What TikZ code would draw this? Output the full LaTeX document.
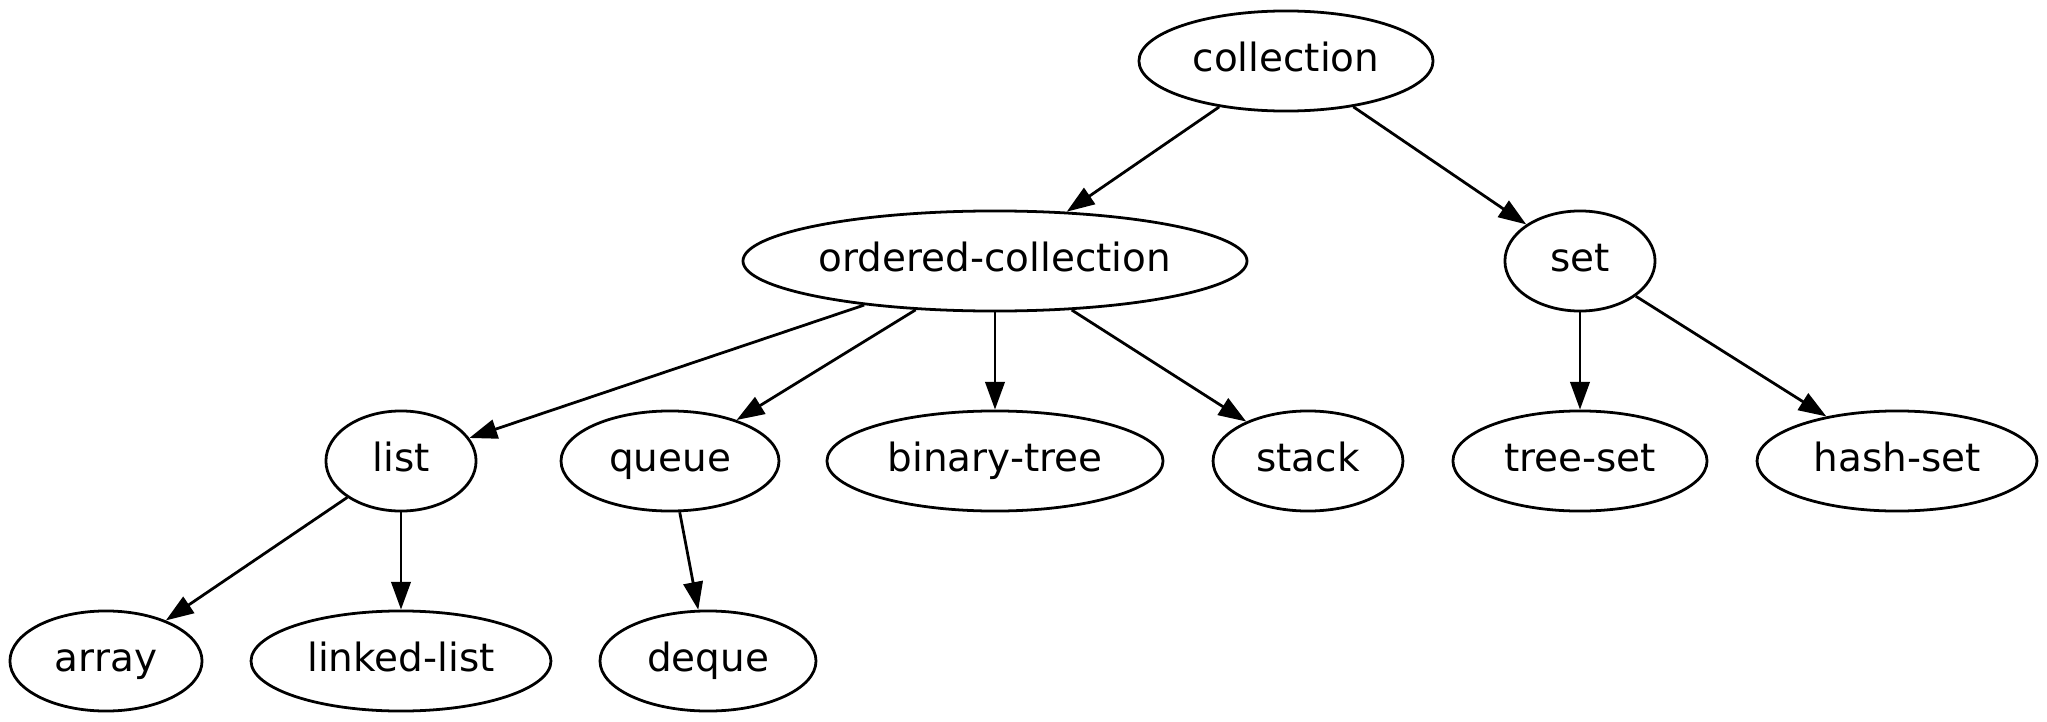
\documentclass[tikz,border=0pt]{standalone}
\usepackage{fontspec}
\setmainfont{DejaVu Sans}
\usetikzlibrary{arrows.meta, positioning, shapes.geometric}

\begin{document}
\begin{tikzpicture}[
  x=0.3597pt, y=-0.3597pt,
  oval/.style ={ellipse, draw=black, line width=1pt, inner sep=0pt,
                minimum height=36pt, text height=10pt, text depth=2.3pt,
                font=\fontsize{14pt}{16pt}\selectfont},
  arr/.style  ={-{Triangle[length=10pt,width=7pt]}, line width=1pt}
]
\useasboundingbox (0,0) rectangle (2047,722);
% ---- Root and second row ---------------------------------------------------
\node[oval, minimum width=105.8pt] (coll) at (1286,61)  {collection};
\node[oval, minimum width=181.3pt] (ord)  at (995,261)  {ordered-collection};
\node[oval, minimum width=54pt]    (set)  at (1580,261) {set};
% ---- Third row -------------------------------------------------------------
\node[oval, minimum width=54pt]    (lst)  at (401,461)  {list};
\node[oval, minimum width=78.4pt]  (que)  at (670,461)  {queue};
\node[oval, minimum width=120.9pt] (btr)  at (995,461)  {binary-tree};
\node[oval, minimum width=68.3pt]  (stk)  at (1308,461) {stack};
\node[oval, minimum width=91.4pt]  (tset) at (1580,461) {tree-set};
\node[oval, minimum width=100.7pt] (hset) at (1897,461) {hash-set};
% ---- Bottom row ------------------------------------------------------------
\node[oval, minimum width=69.1pt]  (arr)  at (106,661)  {array};
\node[oval, minimum width=107.9pt] (llst) at (401,661)  {linked-list};
\node[oval, minimum width=77.7pt]  (deq)  at (708,661)  {deque};
% ---- Arrows ----------------------------------------------------------------
\draw[arr] (coll) -- (ord);
\draw[arr] (coll) -- (set);
\draw[arr] (ord)  -- (lst);
\draw[arr] (ord)  -- (que);
\draw[arr] (ord)  -- (btr);
\draw[arr] (ord)  -- (stk);
\draw[arr] (set)  -- (tset);
\draw[arr] (set)  -- (hset);
\draw[arr] (lst)  -- (arr);
\draw[arr] (lst)  -- (llst);
\draw[arr] (que)  -- (deq);
\end{tikzpicture}
\end{document}
